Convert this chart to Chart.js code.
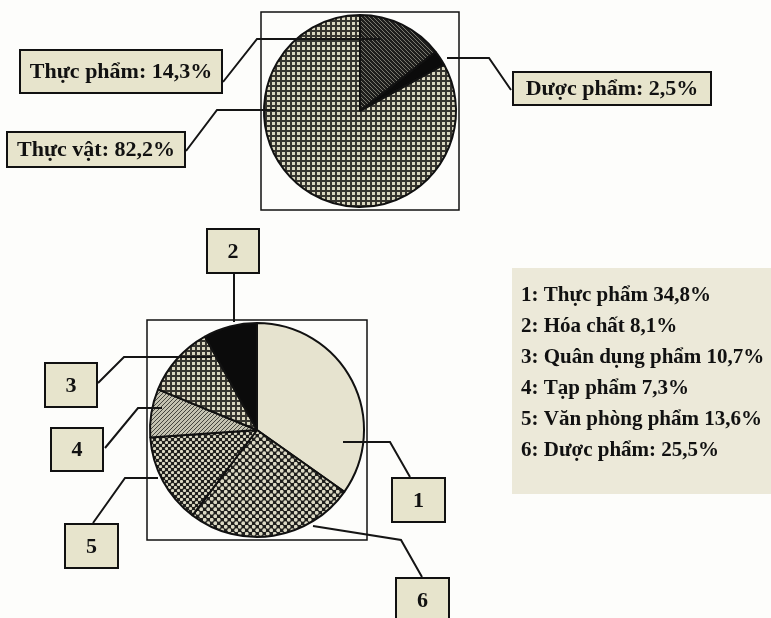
<!DOCTYPE html>
<html lang="vi">
<head>
<meta charset="UTF-8">
<title>Cơ cấu hàng hóa</title>
<script src="https://cdn.jsdelivr.net/npm/chart.js"></script>
<style>
  body { margin: 0; background: #fdfdfb; }
  #wrap { position: relative; width: 771px; height: 618px; }
  #wrap canvas { position: absolute; left: 0; top: 0; }
</style>
</head>
<body>
<div id="wrap">
  <canvas id="topPie" width="771" height="618"></canvas>
  <canvas id="bottomPie" width="771" height="618"></canvas>
</div>
<script>
// upper pie, clockwise from 12 o'clock
const topLabels = ['Thực phẩm', 'Dược phẩm', 'Thực vật'];
const topValues = [14.3, 2.5, 82.2];

// lower pie, clockwise from 12 o'clock (numbers are the ones in the boxes)
const bottomNumbers = [1, 6, 5, 4, 3, 2];
const bottomLabels = ['Thực phẩm', 'Dược phẩm:', 'Văn phòng phẩm', 'Tạp phẩm', 'Quân dụng phẩm', 'Hóa chất'];
const bottomValues = [34.8, 25.5, 13.6, 7.3, 10.7, 8.1];

const FONT = '"Liberation Serif", "Times New Roman", serif';
const BOX_FILL = '#e7e4cc';
const fmt = v => v.toFixed(1).replace('.', ',') + '%';

// small repeating fills to imitate the printed hatching
function makePattern(size, draw) {
    const c = document.createElement('canvas');
    c.width = size; c.height = size;
    const g = c.getContext('2d');
    draw(g, size);
    return g.createPattern(c, 'repeat');
}
const gridFill = makePattern(5, g => {
    g.fillStyle = '#36352f'; g.fillRect(0, 0, 5, 5);
    g.fillStyle = '#d9d6bf'; g.fillRect(2, 2, 3, 3);
});
const darkHatch = makePattern(4, g => {
    g.fillStyle = '#1e1e1c'; g.fillRect(0, 0, 4, 4);
    g.fillStyle = '#7a7970';
    for (let i = 0; i < 4; i++) g.fillRect(i, i, 1, 1);
});
const lightHatch = makePattern(4, g => {
    g.fillStyle = '#c4c2b1'; g.fillRect(0, 0, 4, 4);
    g.fillStyle = '#45453f';
    for (let i = 0; i < 4; i++) g.fillRect(i, 3 - i, 1, 1);
});
const dotFill = (size, r) => makePattern(size, g => {
    g.fillStyle = '#1f1f1d'; g.fillRect(0, 0, size, size);
    g.fillStyle = '#dcd9c4';
    const h = size / 2;
    [[h / 2, h / 2], [h / 2 + h, h / 2 + h]].forEach(([x, y]) => {
        g.beginPath(); g.arc(x, y, r, 0, Math.PI * 2); g.fill();
    });
});

// where the boxes and leader lines sit on the page
const topCallouts = [
    { box: [20, 50, 202, 43], line: [[223, 82], [257, 39], [380, 39]] },
    { box: [513, 72, 198, 33], line: [[511, 90], [489, 58], [447, 58]] },
    { box: [7, 132, 178, 35], line: [[186, 151], [217, 110], [276, 110]] }
];
const bottomCallouts = [
    { box: [392, 478, 53, 44], line: [[410, 477], [390, 442], [343, 442]] },
    { box: [396, 578, 53, 44], line: [[422, 577], [401, 540], [313, 526]] },
    { box: [65, 524, 53, 44], line: [[93, 523], [125, 478], [158, 478]] },
    { box: [51, 428, 52, 43], line: [[105, 448], [138, 408], [162, 408]] },
    { box: [45, 363, 52, 44], line: [[98, 383], [124, 357], [212, 357]] },
    { box: [207, 229, 52, 44], line: [[234, 273], [234, 322]] }
];

function drawBox(ctx, [x, y, w, h], text, size) {
    ctx.fillStyle = BOX_FILL;
    ctx.fillRect(x, y, w, h);
    ctx.strokeStyle = '#111';
    ctx.lineWidth = 2;
    ctx.strokeRect(x, y, w, h);
    ctx.fillStyle = '#111';
    ctx.font = 'bold ' + size + 'px ' + FONT;
    ctx.textAlign = 'center';
    ctx.textBaseline = 'middle';
    ctx.fillText(text, x + w / 2, y + h / 2 + 1);
}

function drawLine(ctx, pts) {
    ctx.strokeStyle = '#151515';
    ctx.lineWidth = 2;
    ctx.beginPath();
    pts.forEach(([x, y], i) => i ? ctx.lineTo(x, y) : ctx.moveTo(x, y));
    ctx.stroke();
}

const calloutPlugin = {
    id: 'callouts',
    beforeDatasetsDraw(chart) {
        // square frame round the pie
        const a = chart.chartArea, ctx = chart.ctx;
        ctx.save();
        ctx.strokeStyle = '#111';
        ctx.lineWidth = 1.5;
        ctx.strokeRect(a.left - 2, a.top - 2, a.width + 4, a.height + 4);
        ctx.restore();
    },
    afterDraw(chart, args, opts) {
        const ctx = chart.ctx;
        ctx.save();
        opts.items.forEach((c, i) => {
            drawLine(ctx, c.line);
            drawBox(ctx, c.box, opts.texts[i], opts.size);
        });
        if (opts.legend) {
            const L = opts.legend;
            ctx.fillStyle = '#ece9d9';
            ctx.fillRect(L.x, L.y, L.w, L.h);
            ctx.fillStyle = '#111';
            ctx.font = 'bold 21px ' + FONT;
            ctx.textAlign = 'left';
            ctx.textBaseline = 'alphabetic';
            L.lines.forEach((t, i) => ctx.fillText(t, L.textX, L.firstBase + i * L.step));
        }
        ctx.restore();
    }
};

const baseOptions = (padding, callouts) => ({
    responsive: false,
    animation: false,
    events: [],
    layout: { padding: padding },
    plugins: {
        legend: { display: false },
        tooltip: { enabled: false },
        callouts: callouts
    }
});

new Chart(document.getElementById('topPie'), {
    type: 'pie',
    data: {
        labels: topLabels,
        datasets: [{
            data: topValues,
            backgroundColor: [darkHatch, '#0b0b0b', gridFill],
            borderColor: '#111',
            borderWidth: 2,
            hoverOffset: 0
        }]
    },
    options: baseOptions({ left: 263, right: 314, top: 14, bottom: 410 }, {
        items: topCallouts,
        texts: topLabels.map((l, i) => l + ': ' + fmt(topValues[i])),
        size: 22
    }),
    plugins: [calloutPlugin]
});

const legendOrder = bottomNumbers.map((n, i) => i).sort((a, b) => bottomNumbers[a] - bottomNumbers[b]);

new Chart(document.getElementById('bottomPie'), {
    type: 'pie',
    data: {
        labels: bottomLabels,
        datasets: [{
            data: bottomValues,
            backgroundColor: ['#e6e3cf', dotFill(7, 1.9), dotFill(6, 1.6), lightHatch, gridFill, '#0b0b0b'],
            borderColor: '#111',
            borderWidth: 2,
            hoverOffset: 0
        }]
    },
    options: baseOptions({ left: 149, right: 406, top: 322, bottom: 80 }, {
        items: bottomCallouts,
        texts: bottomNumbers.map(String),
        size: 22,
        legend: {
            x: 512, y: 268, w: 259, h: 226,
            textX: 521, firstBase: 301, step: 31,
            lines: legendOrder.map(i => bottomNumbers[i] + ': ' + bottomLabels[i] + ' ' + fmt(bottomValues[i]))
        }
    }),
    plugins: [calloutPlugin]
});
</script>
</body>
</html>
